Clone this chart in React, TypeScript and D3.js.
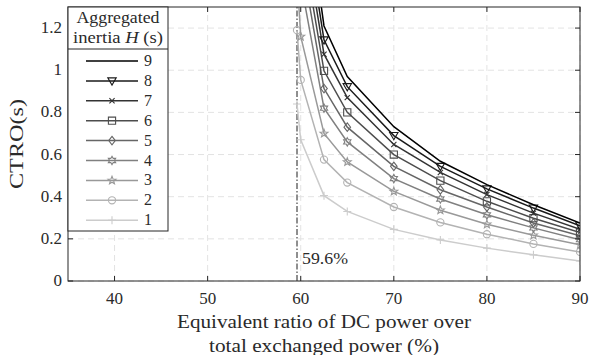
import React from 'react';
import * as d3 from 'd3';

// ratio of DC power (%) at which CTRO was evaluated
const ratios = [59.6, 60, 62.5, 65, 70, 75, 80, 85, 90];
// CTRO (s) per aggregated inertia H; values above 1.3 are off the top of the plot (estimated)
const ctroH9 = [2.5, 2.0, 1.21, 0.97, 0.732, 0.568, 0.457, 0.362, 0.275];
const ctroH8 = [2.31, 1.85, 1.144, 0.922, 0.69, 0.544, 0.437, 0.346, 0.262];
const ctroH7 = [2.19, 1.75, 1.076, 0.87, 0.648, 0.515, 0.41, 0.322, 0.245];
const ctroH6 = [2.06, 1.65, 0.997, 0.8, 0.6, 0.476, 0.378, 0.298, 0.23];
const ctroH5 = [1.94, 1.55, 0.913, 0.73, 0.544, 0.433, 0.351, 0.275, 0.214];
const ctroH4 = [1.78, 1.42, 0.82, 0.66, 0.486, 0.389, 0.314, 0.252, 0.196];
const ctroH3 = [1.45, 1.16, 0.7, 0.565, 0.425, 0.336, 0.269, 0.217, 0.172];
const ctroH2 = [1.19, 0.954, 0.576, 0.467, 0.351, 0.278, 0.222, 0.176, 0.138];
const ctroH1 = [0.84, 0.67, 0.405, 0.33, 0.245, 0.195, 0.156, 0.124, 0.095];

const inertias = [9, 8, 7, 6, 5, 4, 3, 2, 1];
const markerKinds = ['none', 'tri', 'x', 'square', 'diamond', 'hex', 'star', 'circle', 'plus'];
const grayLevels = [0, 0.1, 0.2, 0.3, 0.4, 0.5, 0.6, 0.7, 0.8];

const xTicks = [40, 50, 60, 70, 80, 90];
const yTicks = [0, 0.2, 0.4, 0.6, 0.8, 1, 1.2];
const threshold = 59.6;

const W = 610, H = 355;
const m = { left: 68, right: 30, top: 7, bottom: 74 };
const FONT = "'Liberation Serif', 'DejaVu Serif', serif";
const INK = '#2a2a2a';

const series = [ctroH9, ctroH8, ctroH7, ctroH6, ctroH5, ctroH4, ctroH3, ctroH2, ctroH1].map((vals, i) => ({
  h: inertias[i],
  vals,
  marker: markerKinds[i],
  color: d3.interpolateRgb('#000', '#fff')(grayLevels[i]),
}));

const starPath = (n: number, r: number, ri: number) => {
  const pts: string[] = [];
  for (let k = 0; k < 2 * n; k++) {
    const a = -Math.PI / 2 + (k * Math.PI) / n;
    const rr = k % 2 === 0 ? r : ri;
    pts.push(`${(rr * Math.cos(a)).toFixed(2)},${(rr * Math.sin(a)).toFixed(2)}`);
  }
  return 'M' + pts.join('L') + 'Z';
};

const markerPath = (kind: string) => {
  switch (kind) {
    case 'tri': return 'M-4.2,-3L4.2,-3L0,4.2Z';
    case 'x': return 'M-2.6,-2.6L2.6,2.6M-2.6,2.6L2.6,-2.6';
    case 'square': return 'M-3.6,-3.6H3.6V3.6H-3.6Z';
    case 'diamond': return 'M0,-4.3L3.3,0L0,4.3L-3.3,0Z';
    case 'hex': return starPath(6, 4.2, 2.4);
    case 'star': return starPath(5, 4.2, 1.8);
    case 'circle': return d3.arc()({ innerRadius: 0, outerRadius: 3.6, startAngle: 0, endAngle: 2 * Math.PI }) as string;
    case 'plus': return 'M-4,0H4M0,-4V4';
    default: return '';
  }
};

const Marker = ({ kind, x, y, color }: { kind: string; x: number; y: number; color: string }) =>
  kind === 'none' ? null : (
    <path d={markerPath(kind)} transform={`translate(${x},${y})`} fill="none" stroke={color} strokeWidth={1.1} />
  );

export default function App() {
  const x = d3.scaleLinear().domain([35, 90]).range([m.left, W - m.right]);
  const y = d3.scaleLinear().domain([0, 1.3]).range([H - m.bottom, m.top]);
  const [x0, x1] = x.range();
  const [y0, y1] = y.range();
  const line = d3.line<number>().x((_, i) => x(ratios[i])).y(d => y(d));

  // legend geometry
  const lg = { x: x0, y: y1, w: 100, h: 224, head: 42, row: 19.9 };

  return (
    <svg width={W} height={H} style={{ position: 'absolute', left: 0, top: 0, background: '#fff', fontFamily: FONT }}>
      <defs>
        <clipPath id="plot">
          <rect x={x0} y={y1} width={x1 - x0} height={y0 - y1} />
        </clipPath>
      </defs>

      {/* grid */}
      <g stroke="#e3e3e3" strokeWidth={1} strokeDasharray="6,4">
        {xTicks.map(t => <line key={'gx' + t} x1={x(t)} x2={x(t)} y1={y0} y2={y1} />)}
        {yTicks.map(t => <line key={'gy' + t} x1={x0} x2={x1} y1={y(t)} y2={y(t)} />)}
      </g>

      {/* 59.6 % threshold */}
      <line x1={x(threshold)} x2={x(threshold)} y1={y0} y2={y1} stroke="#333" strokeWidth={1.1} strokeDasharray="6,2,1.5,2" />
      <text x={x(threshold) + 5} y={y(0.1) + 4} fontSize={17} fill={INK} textLength={46} lengthAdjust="spacingAndGlyphs">59.6%</text>

      {/* curves */}
      <g clipPath="url(#plot)">
        {[...series].reverse().map(s => (
          <g key={s.h}>
            <path d={line(s.vals) as string} fill="none" stroke={s.color} strokeWidth={1.5} />
            {s.vals.map((v, i) => (
              <Marker key={i} kind={s.marker} x={x(ratios[i])} y={y(v)} color={s.color} />
            ))}
          </g>
        ))}
      </g>

      {/* axes box and ticks */}
      <g stroke="#262626" strokeWidth={1}>
        <rect x={x0} y={y1} width={x1 - x0} height={y0 - y1} fill="none" />
        {xTicks.map(t => (
          <g key={'tx' + t}>
            <line x1={x(t)} x2={x(t)} y1={y0} y2={y0 - 5} />
            <line x1={x(t)} x2={x(t)} y1={y1} y2={y1 + 5} />
          </g>
        ))}
        {yTicks.map(t => (
          <g key={'ty' + t}>
            <line x1={x0} x2={x0 + 5} y1={y(t)} y2={y(t)} />
            <line x1={x1} x2={x1 - 5} y1={y(t)} y2={y(t)} />
          </g>
        ))}
      </g>

      {/* tick labels */}
      <g fontSize={17} fill={INK}>
        {xTicks.map(t => (
          <text key={'lx' + t} x={x(t)} y={y0 + 23} textAnchor="middle">{t}</text>
        ))}
        {yTicks.map(t => (
          <text key={'ly' + t} x={x0 - 6} y={y(t) + 5} textAnchor="end">{t}</text>
        ))}
      </g>

      {/* axis titles */}
      <text transform={`translate(${23},${(y0 + y1) / 2}) rotate(-90)`} textAnchor="middle" fontSize={19} fill={INK}
        textLength={90} lengthAdjust="spacingAndGlyphs">CTRO(s)</text>
      <g fontSize={19} fill={INK} textAnchor="middle">
        <text x={(x0 + x1) / 2} y={y0 + 47} textLength={294} lengthAdjust="spacingAndGlyphs">Equivalent ratio of DC power over</text>
        <text x={(x0 + x1) / 2} y={y0 + 71} textLength={230} lengthAdjust="spacingAndGlyphs">total exchanged power (%)</text>
      </g>

      {/* legend */}
      <g>
        <rect x={lg.x} y={lg.y} width={lg.w} height={lg.h} fill="#fff" stroke="#262626" strokeWidth={1} />
        <line x1={lg.x} x2={lg.x + lg.w} y1={lg.y + lg.head} y2={lg.y + lg.head} stroke="#262626" strokeWidth={1} />
        <text x={lg.x + lg.w / 2} y={lg.y + 16} textAnchor="middle" fontSize={16} fill={INK}
          textLength={83} lengthAdjust="spacingAndGlyphs">Aggregated</text>
        <text x={lg.x + lg.w / 2} y={lg.y + 36} textAnchor="middle" fontSize={16} fill={INK}
          textLength={90} lengthAdjust="spacingAndGlyphs">
          inertia <tspan fontStyle="italic">H</tspan> (s)
        </text>
        {series.map((s, i) => {
          const ry = lg.y + lg.head + 12 + i * lg.row;
          return (
            <g key={'lg' + s.h}>
              <line x1={lg.x + 18} x2={lg.x + 70} y1={ry} y2={ry} stroke={s.color} strokeWidth={1.5} />
              <Marker kind={s.marker} x={lg.x + 44} y={ry} color={s.color} />
              <text x={lg.x + 76} y={ry + 5} fontSize={16} fill={INK}>{s.h}</text>
            </g>
          );
        })}
      </g>
    </svg>
  );
}
